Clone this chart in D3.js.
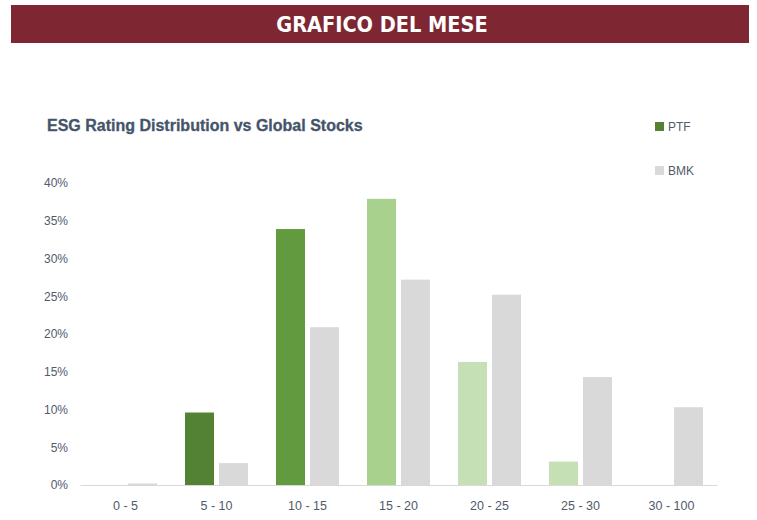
<!DOCTYPE html>
<html>
<head>
<meta charset="utf-8">
<script src="https://cdn.jsdelivr.net/npm/d3@7"></script>
<style>
  body { margin: 0; background: #fff; }
</style>
</head>
<body>
<div id="chart"></div>
<script>
// dati
const categories = ["0 - 5", "5 - 10", "10 - 15", "15 - 20", "20 - 25", "25 - 30", "30 - 100"];
const ptfValues = [0, 9.6, 33.9, 37.9, 16.3, 3.1, 0];
const bmkValues = [0.2, 2.9, 20.9, 27.2, 25.2, 14.3, 10.3];
const ptfColors = ["#548235", "#548235", "#629a3f", "#a9d18e", "#c5e0b4", "#c5e0b4", "#c5e0b4"];
const yTicks = [0, 5, 10, 15, 20, 25, 30, 35, 40];
const seriesNames = ["PTF", "BMK"];

const W = 757, H = 520;
const svg = d3.select("#chart").append("svg")
  .attr("width", W)
  .attr("height", H);

// intestazione
svg.append("rect")
  .attr("x", 11).attr("y", 5)
  .attr("width", 738).attr("height", 38)
  .attr("fill", "#7f2633");
svg.append("text")
  .attr("x", 382).attr("y", 32)
  .attr("text-anchor", "middle")
  .attr("font-family", "DejaVu Sans Condensed, DejaVu Sans")
  .attr("font-weight", "bold")
  .attr("font-size", 21.5)
  .attr("fill", "#fff")
  .text("GRAFICO DEL MESE");

// titolo
svg.append("text")
  .attr("x", 47).attr("y", 131)
  .attr("font-family", "Liberation Sans, Arial")
  .attr("font-weight", "bold")
  .attr("font-size", 16)
  .attr("fill", "#44546a")
  .attr("stroke", "#44546a")
  .attr("stroke-width", 0.3)
  .text("ESG Rating Distribution vs Global Stocks");

const margin = {left: 80, right: 40, top: 183, bottom: 35};
const x = d3.scaleBand()
  .domain(categories)
  .range([margin.left, W - margin.right]);
const y = d3.scaleLinear()
  .domain([0, 40])
  .range([H - margin.bottom, margin.top]);

const barW = 29, gap = 5;
const g = svg.append("g");

// asse y
const yAxis = svg.append("g")
  .attr("transform", "translate(70,0)")
  .call(d3.axisLeft(y).tickValues(yTicks).tickSize(0).tickFormat(d => d + "%"));
yAxis.select(".domain").remove();
yAxis.selectAll("text")
  .attr("font-family", "Liberation Sans, Arial")
  .attr("font-size", 12)
  .attr("fill", "#505a6a")
  .attr("x", -2);

// asse x
const xAxis = svg.append("g")
  .attr("transform", "translate(0," + y(0) + ")")
  .call(d3.axisBottom(x).tickSize(0).tickPadding(16));
xAxis.select(".domain").attr("stroke", "#d9d9d9");
xAxis.selectAll("text")
  .attr("font-family", "Liberation Sans, Arial")
  .attr("font-size", 12.5)
  .attr("fill", "#505a6a");

// barre PTF
g.selectAll(".ptf")
  .data(categories)
  .join("rect")
  .attr("class", "ptf")
  .attr("x", d => x(d) + x.bandwidth() / 2 - gap / 2 - barW)
  .attr("y", (d, i) => y(ptfValues[i]))
  .attr("width", barW)
  .attr("height", (d, i) => y(0) - y(ptfValues[i]))
  .attr("fill", (d, i) => ptfColors[i]);

// barre BMK
g.selectAll(".bmk")
  .data(categories)
  .join("rect")
  .attr("class", "bmk")
  .attr("x", d => x(d) + x.bandwidth() / 2 + gap / 2)
  .attr("y", (d, i) => y(bmkValues[i]))
  .attr("width", barW)
  .attr("height", (d, i) => y(0) - y(bmkValues[i]))
  .attr("fill", "#d9d9d9");

xAxis.raise();

// legenda
const legend = svg.append("g");
seriesNames.forEach((name, i) => {
  const ly = 122 + i * 44;
  legend.append("rect")
    .attr("x", 655).attr("y", ly)
    .attr("width", 9).attr("height", 9)
    .attr("fill", i == 0 ? "#548235" : "#d9d9d9");
  legend.append("text")
    .attr("x", 668).attr("y", ly + 9)
    .attr("font-family", "Liberation Sans, Arial")
    .attr("font-size", 12)
    .attr("fill", "#505a6a")
    .text(name);
});
</script>
</body>
</html>
